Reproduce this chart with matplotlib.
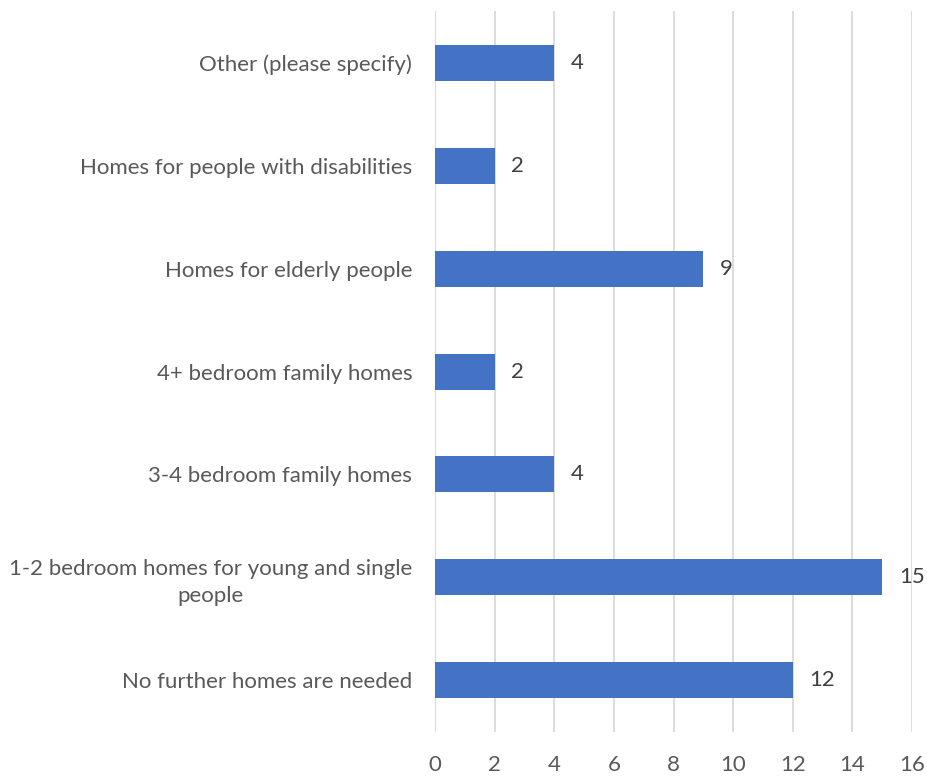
import matplotlib
matplotlib.use("Agg")
import matplotlib.pyplot as plt

categories = [
    "No further homes are needed",
    "1-2 bedroom homes for young and single\npeople",
    "3-4 bedroom family homes",
    "4+ bedroom family homes",
    "Homes for elderly people",
    "Homes for people with disabilities",
    "Other (please specify)",
]
values = [12, 15, 4, 2, 9, 2, 4]
x_ticks = [0, 2, 4, 6, 8, 10, 12, 14, 16]

plt.rcParams["font.family"] = ["Lato", "DejaVu Sans"]

fig = plt.figure(figsize=(9.28, 7.76), dpi=100)
ax = fig.add_axes([0.4688, 0.0573, 0.5140, 0.9279])

pos = range(len(categories))
ax.barh(pos, values, height=0.35, color="#4472C4", zorder=3)
for p, v in zip(pos, values):
    ax.annotate(str(v), (v, p), xytext=(12, 0), textcoords="offset points",
                va="center", ha="left", fontsize=16, color="#404040")

ax.set_xlim(0, 16)
ax.set_ylim(-0.5, len(categories) - 0.5)
ax.set_xticks(x_ticks)
ax.set_yticks(list(pos))
ax.set_yticklabels(categories, fontsize=16, color="#595959")
ax.tick_params(axis="x", labelsize=16, colors="#595959", length=0, pad=17)
ax.tick_params(axis="y", length=0, pad=16.5)
for lbl in ax.get_yticklabels():
    lbl.set_horizontalalignment("right")
    lbl.set_multialignment("center")
    lbl.set_linespacing(1.45)

ax.grid(axis="x", color="#D9D9D9", linewidth=1.3, zorder=0)
for s in ax.spines.values():
    s.set_visible(False)

fig.savefig("out.png", dpi=100)
